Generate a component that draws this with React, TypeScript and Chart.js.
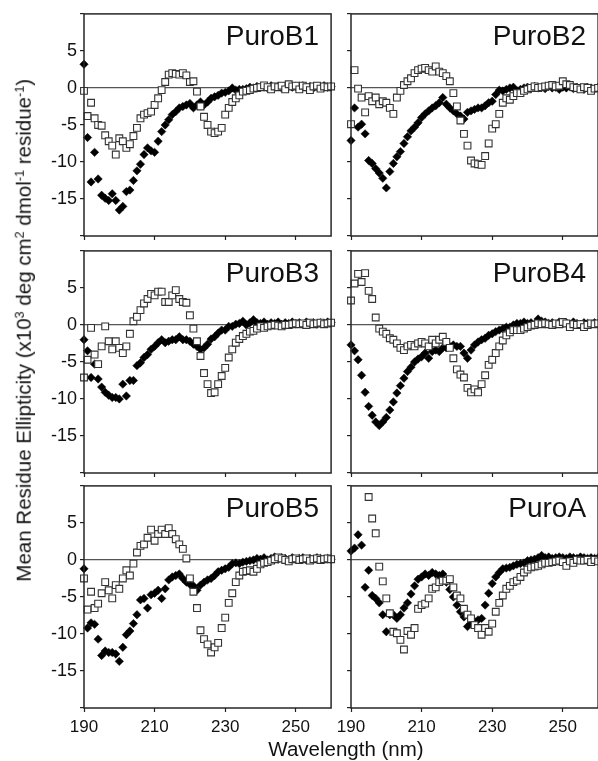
import React, { useEffect, useRef } from "react";
import { Chart, registerables } from "chart.js";

Chart.register(...registerables);

// ---------------- data ----------------
const wavelengths = [
  190, 191, 192, 193, 194, 195, 196, 197, 198, 199,
  200, 201, 202, 203, 204, 205, 206, 207, 208, 209,
  210, 211, 212, 213, 214, 215, 216, 217, 218, 219,
  220, 221, 222, 223, 224, 225, 226, 227, 228, 229,
  230, 231, 232, 233, 234, 235, 236, 237, 238, 239,
  240, 241, 242, 243, 244, 245, 246, 247, 248, 249,
  250, 251, 252, 253, 254, 255, 256, 257, 258, 259, 260,
];

const xTickValues = [190, 210, 230, 250];
const yTickValues = [-20, -15, -10, -5, 0, 5, 10];
const panelNames = ["PuroB1", "PuroB2", "PuroB3", "PuroB4", "PuroB5", "PuroA"];
const xAxisTitle = "Wavelength (nm)";

// open squares
const puroB1Open = [
  -0.4, -3.8, -2.0, -4.1, -5.0, -5.1, -6.4, -7.2, -7.8, -9.0,
  -6.8, -7.2, -8.1, -7.6, -6.5, -5.4, -4.1, -3.6, -3.4, -3.2,
  -2.3, -1.4, -0.3, 0.8, 1.8, 2.0, 1.9, 1.8, 2.0, 1.7,
  0.8, 0.9, -0.5, -2.5, -3.9, -5.0, -5.9, -6.1, -5.9, -5.4,
  -3.6, -2.7, -1.9, -1.4, -1.0, -0.5, -0.4, -0.3, -0.1, 0.0,
  0.1, 0.35, 0.1, -0.2, 0.2, 0.1, 0.3, -0.2, 0.5, 0.2,
  0.3, -0.2, 0.3, 0.1, -0.3, 0.2, 0.3, -0.1, 0.2, 0.1, 0.2,
];
// filled diamonds
const puroB1Filled = [
  3.2, -6.7, -12.7, -8.7, -12.3, -14.5, -14.9, -15.2, -14.3, -15.2,
  -16.5, -16.0, -14.0, -13.8, -12.5, -11.2, -10.3, -9.0, -8.1, -8.5,
  -8.7, -7.2, -5.9, -5.0, -4.3, -3.6, -3.2, -2.7, -2.5, -2.3,
  -2.1, -2.7, -2.3, -1.9, -2.3, -1.9, -1.4, -1.2, -1.0, -0.7,
  -0.6, -0.4, 0.0, -0.3, -0.2, -0.2, -0.1, 0.1, 0.0, 0.2,
  0.1, 0.2, 0.0, 0.3, 0.1, 0.2, 0.0, 0.2, 0.3, 0.1,
  0.2, 0.0, 0.3, 0.1, 0.2, 0.0, 0.2, 0.1, 0.3, 0.1, 0.2,
];

const puroB2Open = [
  -4.9, 2.4, -0.1, -1.3, -3.3, -1.1, -1.8, -1.3, -2.2, -1.8,
  -2.0, -2.7, -3.5, -1.3, -0.4, 0.4, 0.9, 1.3, 2.0, 2.4,
  2.6, 2.7, 2.4, 2.2, 2.9, 2.2, 2.0, 1.6, 0.9, -0.7,
  -2.5, -4.4, -6.2, -7.8, -9.8, -10.2, -10.3, -10.4, -9.2, -7.5,
  -5.5, -4.9, -3.5, -2.0, -1.4, -1.6, -1.1, -0.7, -0.7, -0.4,
  -0.2, 0.0, 0.2, 0.0, 0.1, 0.2, 0.3, 0.4, 0.2, 0.3,
  0.9, 0.5, 0.4, 0.1, 0.0, -0.2, 0.1, 0.0, -0.4, -0.1, 0.0,
];
const puroB2Filled = [
  -7.1, -2.7, -5.3, -4.9, -6.2, -9.8, -10.2, -10.9, -11.5, -12.2,
  -13.5, -11.3, -10.2, -9.3, -8.6, -7.5, -6.6, -5.8, -5.3, -4.7,
  -4.0, -3.5, -3.1, -2.7, -2.4, -2.0, -1.3, -2.2, -2.7, -3.1,
  -3.5, -3.8, -4.2, -3.3, -3.1, -2.9, -2.7, -2.7, -2.4, -2.0,
  -1.8, -0.9, -0.3, -0.4, -0.2, 0.0, 0.1, -0.4, -0.2, 0.0,
  0.1, -0.1, 0.2, 0.0, 0.1, -0.1, 0.2, 0.0, 0.1, -0.2,
  0.1, 0.0, 0.2, -0.1, 0.1, 0.0, -0.2, 0.1, 0.0, -0.1, 0.1,
];

const puroB3Open = [
  -7.1, -4.7, -0.4, -4.0, -5.3, -2.9, -0.2, -2.2, -3.3, -2.2,
  -3.1, -3.8, -2.9, -1.2, 0.5, 1.1, 2.0, 2.9, 3.5, 4.2,
  4.0, 4.5, 4.5, 3.1, 3.1, 4.0, 4.7, 3.5, 3.1, 3.0,
  1.3, -0.5, -2.2, -4.2, -6.5, -8.0, -9.2, -9.1, -8.0, -6.9,
  -5.8, -4.4, -3.3, -2.4, -1.9, -1.5, -1.2, -0.9, -0.8, -0.5,
  -0.2, -0.4, -0.2, -0.1, 0.0, -0.1, -0.2, 0.0, 0.0, 0.1,
  0.2, 0.1, 0.2, 0.0, 0.3, 0.1, 0.2, 0.3, 0.1, 0.2, 0.3,
];
const puroB3Filled = [
  -2.0, -3.5, -7.1, -5.3, -7.3, -8.4, -9.1, -9.5, -9.8, -9.8,
  -10.0, -8.0, -9.6, -7.5, -7.5, -5.5, -5.1, -4.4, -4.0, -3.3,
  -2.9, -2.4, -2.0, -2.4, -2.2, -2.0, -2.0, -1.6, -2.0, -2.0,
  -2.2, -2.6, -2.9, -3.3, -3.1, -2.6, -1.9, -1.6, -1.1, -0.7,
  -0.7, -0.2, -0.2, 0.1, 0.2, 0.5, 0.0, 0.3, 0.7, 0.3,
  0.2, 0.4, 0.1, 0.3, 0.2, 0.4, 0.1, 0.3, 0.2, 0.4,
  0.2, 0.3, 0.1, 0.4, 0.2, 0.3, 0.1, 0.3, 0.2, 0.4, 0.3,
];

const puroB4Open = [
  3.3, 5.6, 6.9, 5.8, 7.0, 4.6, 3.5, 1.0, -0.5, -0.9,
  -1.2, -1.8, -2.0, -2.5, -3.1, -3.4, -2.9, -2.7, -2.9, -2.5,
  -2.3, -2.5, -2.9, -2.0, -2.5, -2.0, -1.6, -2.3, -3.1, -4.5,
  -6.0, -6.7, -7.1, -8.5, -9.1, -8.7, -9.1, -8.0, -6.8, -5.4,
  -4.7, -3.8, -2.9, -2.1, -1.4, -1.0, -0.7, -0.7, -0.7, -0.5,
  -0.3, -0.1, 0.0, 0.2, 0.1, 0.2, 0.1, 0.0, 0.2, 0.1,
  0.4, 0.2, -0.3, 0.1, 0.0, 0.1, -0.3, 0.0, 0.2, 0.1, 0.2,
];
const puroB4Filled = [
  -2.7, -3.5, -4.7, -6.8, -9.1, -11.0, -12.2, -13.1, -13.6, -13.1,
  -12.5, -11.5, -10.4, -9.2, -8.2, -7.2, -6.3, -5.7, -5.0, -4.6,
  -4.3, -3.8, -4.5, -3.6, -3.4, -3.6, -3.1, -3.1, -2.9, -2.7,
  -2.9, -2.9, -3.8, -4.5, -3.4, -2.7, -2.3, -2.0, -1.8, -1.4,
  -1.2, -0.9, -0.7, -0.5, -0.3, -0.3, 0.0, 0.2, 0.2, 0.4,
  0.2, 0.3, 0.1, 0.8, 0.5, 0.4, 0.2, 0.3, 0.1, 0.4,
  0.2, 0.3, 0.1, 0.4, 0.2, 0.1, 0.3, 0.2, 0.1, 0.3, 0.2,
];

const puroB5Open = [
  -2.5, -6.7, -4.3, -6.5, -5.9, -4.5, -3.0, -4.1, -5.2, -3.4,
  -3.9, -2.5, -1.4, -2.1, -0.5, 1.0, 1.9, 2.1, 3.0, 4.1,
  2.6, 3.5, 4.1, 3.5, 4.3, 3.5, 2.8, 2.1, 1.5, 0.2,
  -2.5, -4.3, -6.5, -9.5, -10.7, -11.4, -12.5, -11.8, -11.2, -9.2,
  -7.8, -5.8, -4.5, -3.0, -2.1, -1.6, -1.5, -1.4, -1.6, -1.2,
  -0.6, -0.4, -0.3, -0.1, 0.1, 0.35, 0.2, 0.0, -0.2, 0.1,
  0.2, 0.0, 0.1, 0.2, -0.1, 0.1, 0.2, 0.0, 0.1, 0.2, 0.1,
];
const puroB5Filled = [
  -1.2, -9.2, -8.5, -8.7, -10.7, -12.9, -12.3, -12.5, -12.5, -12.7,
  -13.7, -11.8, -10.1, -9.6, -8.6, -7.4, -5.4, -5.2, -6.5, -4.7,
  -4.5, -4.1, -5.2, -3.9, -2.7, -2.3, -2.1, -1.9, -2.5, -3.0,
  -3.3, -3.5, -4.1, -3.4, -3.0, -2.7, -2.5, -2.1, -1.6, -1.4,
  -1.2, -1.0, -0.5, -0.4, -0.5, -0.3, -0.2, -0.1, 0.0, 0.2,
  0.1, 0.3, 0.0, 0.2, 0.4, 0.1, 0.3, 0.2, 0.0, 0.3,
  0.1, 0.2, 0.3, 0.0, 0.2, 0.1, 0.3, 0.2, 0.1, 0.2, 0.1,
];

const puroAOpen = [
  null, null, null, null, null, 8.5, 5.6, 3.6, -0.9, -2.9,
  -5.2, -7.2, -9.7, -9.9, -10.8, -12.1, -9.6, -10.1, -9.2, -6.6,
  -6.1, -5.9, -5.2, -3.9, -3.7, -3.0, -2.8, -2.8, -2.6, -3.7,
  -4.8, -5.2, -6.6, -7.4, -7.9, -8.8, -9.2, -10.1, -9.2, -9.7,
  -8.6, -7.0, -5.8, -4.8, -3.9, -3.5, -3.0, -2.8, -2.3, -1.7,
  -1.3, -1.0, -0.9, -0.8, -0.6, -0.4, -0.4, -0.3, -0.2, -0.1,
  -0.3, -0.8, -0.2, -0.4, 0.0, -0.1, -0.1, 0.0, -0.3, 0.0, -0.2,
];
const puroAFilled = [
  1.2, 1.6, 3.4, 2.0, -3.7, -1.4, -4.8, -5.2, -5.8, -7.4,
  -9.7, -7.4, -7.4, -7.9, -7.4, -6.5, -5.8, -4.6, -3.5, -2.6,
  -2.3, -1.9, -2.1, -1.7, -1.9, -2.1, -1.9, -3.0, -4.0, -5.0,
  -6.1, -7.0, -7.7, -9.0, -8.6, -8.3, -8.1, -7.9, -6.1, -4.5,
  -3.2, -2.3, -1.7, -1.2, -1.1, -1.0, -0.8, -0.6, -0.5, -0.4,
  -0.1, 0.0, 0.1, 0.3, 0.6, 0.3, 0.4, 0.2, 0.3, 0.4,
  0.3, 0.2, 0.4, 0.3, 0.2, 0.4, 0.3, 0.2, 0.3, 0.2, 0.3,
];

const panelOpen = [puroB1Open, puroB2Open, puroB3Open, puroB4Open, puroB5Open, puroAOpen];
const panelFilled = [puroB1Filled, puroB2Filled, puroB3Filled, puroB4Filled, puroB5Filled, puroAFilled];

// ---------------- layout / style ----------------
const FONT = '"Liberation Sans", Arial, Helvetica, sans-serif';
const ROW_TOPS = [12, 249, 484];
const AREA_H = 224;
const COLS = [
  { left: 20, width: 317, yWidth: 64 },
  { left: 318, width: 286, yWidth: 33 },
];
const PAD_TOP = 4;

function toPoints(values: (number | null)[]) {
  const pts: { x: number; y: number }[] = [];
  values.forEach((v, i) => {
    if (v !== null && v !== undefined) pts.push({ x: wavelengths[i], y: v });
  });
  return pts;
}

function Panel({ index }: { index: number }) {
  const ref = useRef<HTMLCanvasElement>(null);
  const col = index % 2;
  const row = Math.floor(index / 2);
  const showX = row === 2;
  const showY = col === 0;
  const c = COLS[col];
  const xH = showX ? 40 : 8;
  const height = AREA_H + PAD_TOP + xH;
  const top = ROW_TOPS[row] - PAD_TOP;

  useEffect(() => {
    const name = panelNames[index];
    const framePlugin = {
      id: "frameAndTitle",
      afterDraw(chart: any) {
        const { ctx, chartArea } = chart;
        ctx.save();
        ctx.strokeStyle = "#262626";
        ctx.lineWidth = 1.5;
        ctx.strokeRect(
          chartArea.left,
          chartArea.top,
          chartArea.right - chartArea.left,
          chartArea.bottom - chartArea.top
        );
        ctx.fillStyle = "#111";
        ctx.font = `28px ${FONT}`;
        ctx.textAlign = "right";
        ctx.textBaseline = "alphabetic";
        ctx.fillText(name, chartArea.right - 12, chartArea.top + 31);
        ctx.restore();
      },
    };

    const chart = new Chart(ref.current as HTMLCanvasElement, {
      type: "scatter",
      data: {
        datasets: [
          {
            label: "open",
            data: toPoints(panelOpen[index]),
            pointStyle: "rect",
            pointRadius: 4.8,
            pointBackgroundColor: "#ffffff",
            pointBorderColor: "#333333",
            pointBorderWidth: 1.1,
            showLine: false,
            clip: false,
          } as any,
          {
            label: "filled",
            data: toPoints(panelFilled[index]),
            pointStyle: "rectRot",
            pointRadius: 4.2,
            pointBackgroundColor: "#000000",
            pointBorderColor: "#000000",
            pointBorderWidth: 0.5,
            showLine: false,
            clip: false,
          } as any,
        ],
      },
      options: {
        animation: false,
        responsive: false,
        maintainAspectRatio: false,
        events: [],
        layout: { padding: { top: PAD_TOP, right: 1, left: 0, bottom: 0 } },
        plugins: { legend: { display: false }, tooltip: { enabled: false } },
        scales: {
          x: {
            type: "linear",
            min: 190,
            max: 260,
            afterBuildTicks: (s: any) => {
              s.ticks = xTickValues.map((v) => ({ value: v }));
            },
            afterFit: (s: any) => {
              s.height = xH;
              s.paddingLeft = 0;
              s.paddingRight = 0;
            },
            border: { display: false },
            grid: {
              drawOnChartArea: false,
              drawTicks: true,
              tickLength: 4,
              tickColor: "#222",
              tickWidth: 1.2,
            },
            ticks: {
              display: showX,
              autoSkip: false,
              maxRotation: 0,
              padding: 5,
              color: "#111",
              font: { family: FONT, size: 17 },
              callback: (v: any) => String(v),
            },
          },
          y: {
            type: "linear",
            min: -20,
            max: 10,
            afterBuildTicks: (s: any) => {
              s.ticks = yTickValues.map((v) => ({ value: v }));
            },
            afterFit: (s: any) => {
              s.width = c.yWidth;
              s.paddingTop = 0;
              s.paddingBottom = 0;
            },
            border: { display: false },
            grid: {
              drawOnChartArea: true,
              drawTicks: true,
              tickLength: 4,
              tickColor: "#222",
              tickWidth: 1.2,
              lineWidth: 1.2,
              color: (ctx: any) =>
                ctx.tick && ctx.tick.value === 0 ? "#555" : "rgba(0,0,0,0)",
            },
            ticks: {
              display: showY,
              autoSkip: false,
              padding: 3,
              color: "#111",
              font: { family: FONT, size: 18 },
              callback: (v: any) => (v === -20 || v === 10 ? "" : String(v)),
            },
          },
        },
      } as any,
      plugins: [framePlugin as any],
    });
    return () => chart.destroy();
  }, []);

  return (
    <canvas
      ref={ref}
      width={c.width}
      height={height}
      style={{ position: "absolute", left: c.left, top, width: c.width, height }}
    />
  );
}

const supStyle: React.CSSProperties = {
  fontSize: "0.62em",
  verticalAlign: "7px",
  lineHeight: 0,
};

export default function App() {
  return (
    <div
      style={{
        position: "absolute",
        left: 0,
        top: 0,
        width: 598,
        height: 761,
        overflow: "hidden",
        background: "#ffffff",
        fontFamily: FONT,
        color: "#111",
      }}
    >
      {panelNames.map((_, i) => (
        <Panel key={i} index={i} />
      ))}
      <div
        style={{
          position: "absolute",
          left: 24 - 300,
          top: 330.5 - 10.25,
          width: 600,
          height: 20.5,
          lineHeight: "20.5px",
          fontSize: 20.5,
          textAlign: "center",
          whiteSpace: "nowrap",
          transform: "rotate(-90deg)",
        }}
      >
        Mean Residue Ellipticity (x10<span style={supStyle}>3</span> deg cm
        <span style={supStyle}>2</span> dmol<span style={supStyle}>-1</span> residue
        <span style={supStyle}>-1</span>)
      </div>
      <div
        style={{
          position: "absolute",
          left: 0,
          top: 738.6,
          width: 692,
          height: 20.5,
          lineHeight: "20.5px",
          fontSize: 20.5,
          textAlign: "center",
          whiteSpace: "nowrap",
        }}
      >
        {xAxisTitle}
      </div>
    </div>
  );
}
